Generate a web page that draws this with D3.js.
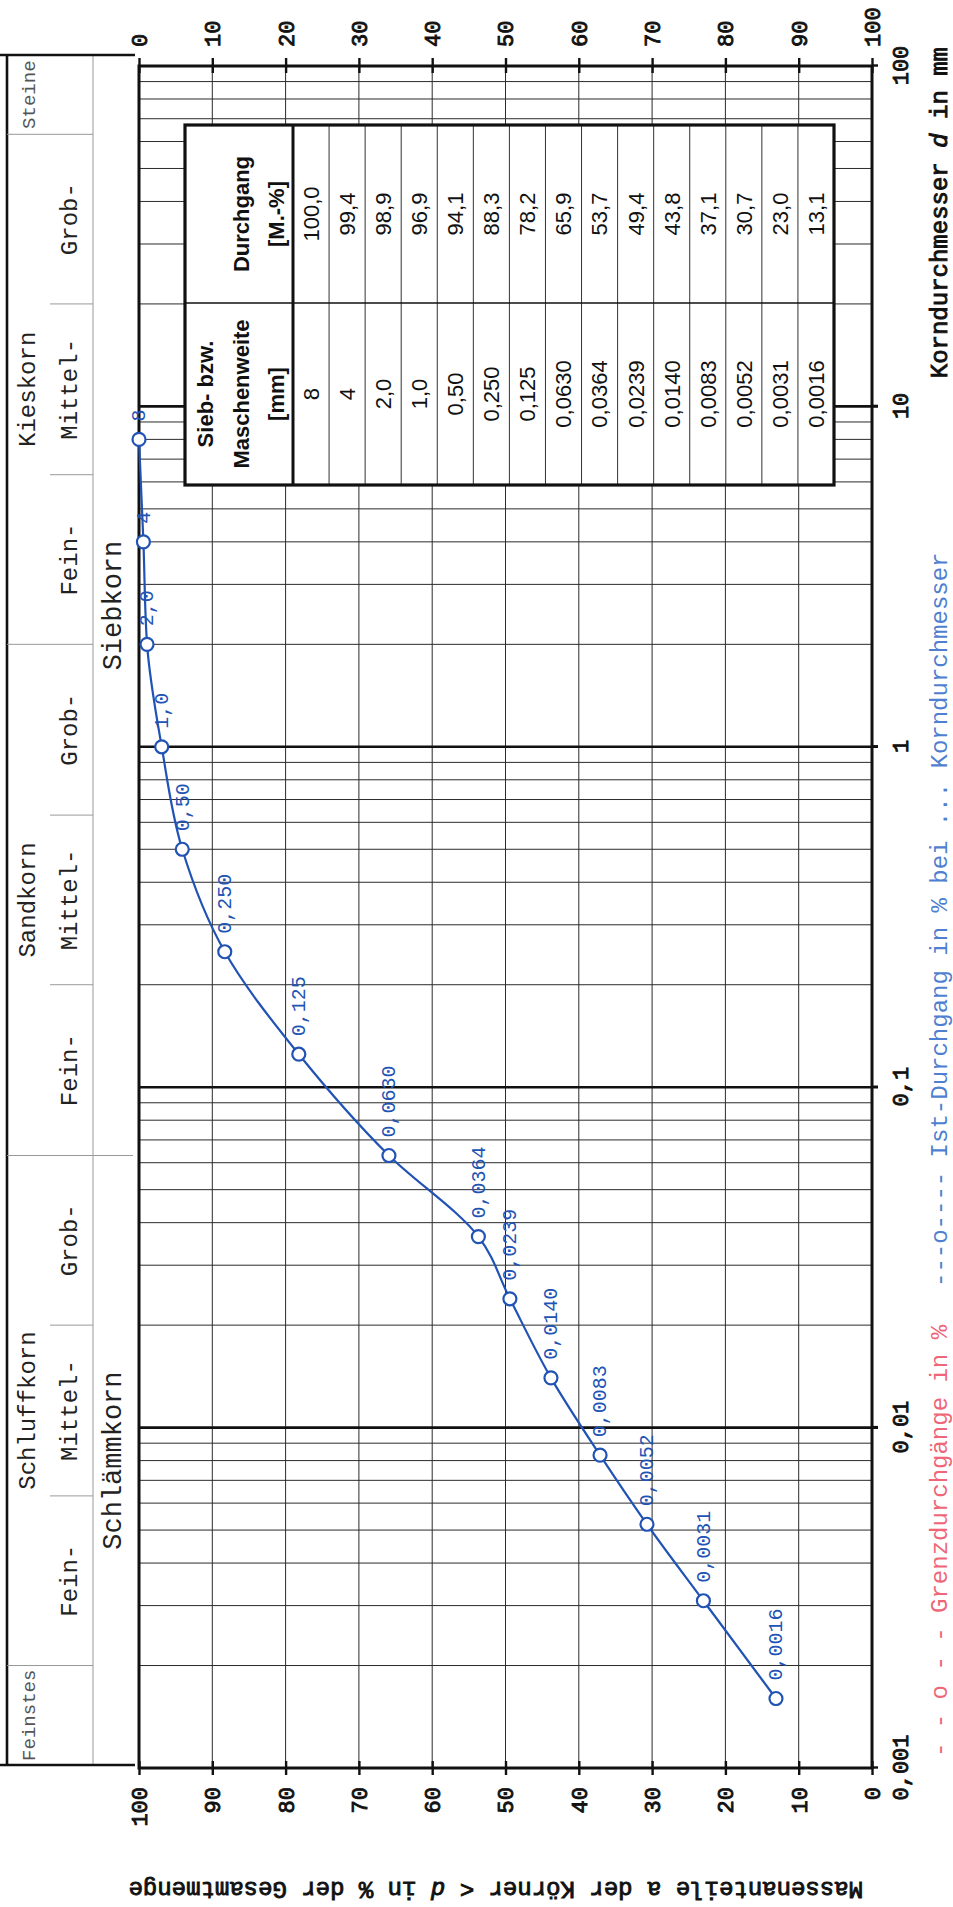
<!DOCTYPE html>
<html>
<head>
<meta charset="utf-8">
<script src="https://cdn.jsdelivr.net/npm/d3@7"></script>
<style>
  html, body { margin: 0; padding: 0; background: #fff; }
  svg { display: block; }
</style>
</head>
<body>
<svg id="chart" width="953" height="1907"></svg>
<script>
// Sieve and sedimentation results (grain size in mm, passing in mass-%)
const sieveSizes = [8, 4, 2.0, 1.0, 0.50, 0.250, 0.125, 0.0630, 0.0364, 0.0239, 0.0140, 0.0083, 0.0052, 0.0031, 0.0016];
const sizeLabels = ["8", "4", "2,0", "1,0", "0,50", "0,250", "0,125", "0,0630", "0,0364", "0,0239", "0,0140", "0,0083", "0,0052", "0,0031", "0,0016"];
const passing = [100.0, 99.4, 98.9, 96.9, 94.1, 88.3, 78.2, 65.9, 53.7, 49.4, 43.8, 37.1, 30.7, 23.0, 13.1];
const passingLabels = ["100,0", "99,4", "98,9", "96,9", "94,1", "88,3", "78,2", "65,9", "53,7", "49,4", "43,8", "37,1", "30,7", "23,0", "13,1"];

// Axis ticks
const sizeTicks = [0.001, 0.01, 0.1, 1, 10, 100];
const sizeTickLabels = ["0,001", "0,01", "0,1", "1", "10", "100"];
const percentTicks = [0, 10, 20, 30, 40, 50, 60, 70, 80, 90, 100];

// Soil classes
const mainClasses = ["Steine", "Kieskorn", "Sandkorn", "Schluffkorn", "Feinstes"];
const mainRanges = [[63, null], [2, 63], [0.063, 2], [0.002, 0.063], [null, 0.002]];
const subClasses = ["Grob-", "Mittel-", "Fein-", "Grob-", "Mittel-", "Fein-", "Grob-", "Mittel-", "Fein-"];
const subRanges = [[20, 63], [6.3, 20], [2, 6.3], [0.63, 2], [0.2, 0.63], [0.063, 0.2], [0.02, 0.063], [0.0063, 0.02], [0.002, 0.0063]];
const mainBounds = [63, 2, 0.063, 0.002];
const subBounds = [20, 6.3, 0.63, 0.2, 0.02, 0.0063];

const W = 953, H = 1907;
const MONO = "'Liberation Mono', 'Courier New', monospace";
const SANS = "'Liberation Sans', Arial, sans-serif";
const BLUE = "#2153b4";

const svg = d3.select("#chart");
// The diagram is laid out in landscape and turned a quarter turn onto the portrait page
const g = svg.append("g").attr("transform", `translate(0,${H}) rotate(-90)`);

const plot = { left: 139, right: 1841, top: 139, bottom: 872 };
const x = d3.scaleLog().domain([0.001, 100]).range([plot.left, plot.right]);
const y = d3.scaleLinear().domain([0, 100]).range([plot.bottom, plot.top]);   // Durchgang
const yR = d3.scaleLinear().domain([0, 100]).range([plot.top, plot.bottom]);  // Rückstand

// semi-bold typewriter text: regular face with a thin outline
const semiBold = sel => sel.attr("font-family", MONO).attr("font-weight", "normal")
  .attr("fill", "#111").attr("stroke", "#111").attr("stroke-width", 0.9);

// ---- grid ----
const logGrid = [];
for (let e = -3; e < 2; e++) for (let m = 2; m < 10; m++) logGrid.push(+(m * Math.pow(10, e)).toPrecision(6));

const grid = g.append("g");
grid.selectAll("line.lg").data(logGrid).join("line")
  .attr("x1", d => x(d)).attr("x2", d => x(d))
  .attr("y1", plot.top).attr("y2", plot.bottom)
  .attr("stroke", "#2b2b2b").attr("stroke-width", 1);
grid.selectAll("line.pg").data(percentTicks.slice(1, -1)).join("line")
  .attr("x1", plot.left).attr("x2", plot.right)
  .attr("y1", d => y(d)).attr("y2", d => y(d))
  .attr("stroke", "#2b2b2b").attr("stroke-width", 1);
// decade lines
grid.selectAll("line.dec").data(sizeTicks.slice(1, -1)).join("line")
  .attr("x1", d => x(d)).attr("x2", d => x(d))
  .attr("y1", plot.top).attr("y2", plot.bottom + 6)
  .attr("stroke", "#111").attr("stroke-width", 2.6);

// ---- table of results ----
const table = { x0: 1422, x1: 1782, xs: 1604, y0: 185, yh: 293, y1: 834 };
const rowH = (table.y1 - table.yh) / sieveSizes.length;
const tg = g.append("g");
tg.append("rect")
  .attr("x", table.x0).attr("y", table.y0)
  .attr("width", table.x1 - table.x0).attr("height", table.y1 - table.y0)
  .attr("fill", "#fff");
tg.selectAll("line.row").data(d3.range(1, sieveSizes.length)).join("line")
  .attr("x1", table.x0).attr("x2", table.x1)
  .attr("y1", i => table.yh + i * rowH).attr("y2", i => table.yh + i * rowH)
  .attr("stroke", "#333").attr("stroke-width", 1);
tg.append("line").attr("x1", table.xs).attr("x2", table.xs)
  .attr("y1", table.y0).attr("y2", table.y1)
  .attr("stroke", "#111").attr("stroke-width", 1.3);
tg.append("line").attr("x1", table.x0).attr("x2", table.x1)
  .attr("y1", table.yh).attr("y2", table.yh)
  .attr("stroke", "#111").attr("stroke-width", 3);
tg.append("rect")
  .attr("x", table.x0).attr("y", table.y0)
  .attr("width", table.x1 - table.x0).attr("height", table.y1 - table.y0)
  .attr("fill", "none").attr("stroke", "#111").attr("stroke-width", 3.2);

const cSize = (table.x0 + table.xs) / 2, cPass = (table.xs + table.x1) / 2;
const head = [
  { t: "Sieb- bzw.", cx: cSize, by: 213 },
  { t: "Maschenweite", cx: cSize, by: 249 },
  { t: "[mm]", cx: cSize, by: 284 },
  { t: "Durchgang", cx: cPass, by: 249 },
  { t: "[M.-%]", cx: cPass, by: 284 }
];
tg.selectAll("text.head").data(head).join("text")
  .attr("x", d => d.cx).attr("y", d => d.by)
  .attr("text-anchor", "middle")
  .attr("font-family", SANS).attr("font-weight", "bold").attr("font-size", 22)
  .attr("fill", "#111").text(d => d.t);
tg.selectAll("text.cs").data(sizeLabels).join("text")
  .attr("x", cSize).attr("y", (d, i) => table.yh + (i + 0.5) * rowH)
  .attr("dy", "0.36em").attr("text-anchor", "middle")
  .attr("font-family", SANS).attr("font-size", 22).attr("fill", "#111").text(d => d);
tg.selectAll("text.cp").data(passingLabels).join("text")
  .attr("x", cPass).attr("y", (d, i) => table.yh + (i + 0.5) * rowH)
  .attr("dy", "0.36em").attr("text-anchor", "middle")
  .attr("font-family", SANS).attr("font-size", 22).attr("fill", "#111").text(d => d);

// ---- frame and axes ----
g.append("rect")
  .attr("x", plot.left).attr("y", plot.top)
  .attr("width", plot.right - plot.left).attr("height", plot.bottom - plot.top)
  .attr("fill", "none").attr("stroke", "#111").attr("stroke-width", 3);

function styleAxis(sel) {
  sel.select(".domain").remove();
  sel.selectAll(".tick line").attr("stroke", "#111").attr("stroke-width", 2.4);
  sel.selectAll(".tick text").call(semiBold).attr("font-size", 22);
}

// grain size axis (d in mm)
const axB = g.append("g").attr("transform", `translate(0,${plot.bottom})`)
  .call(d3.axisBottom(x).tickValues(sizeTicks)
    .tickFormat((d, i) => sizeTickLabels[i]).tickSize(6).tickPadding(30));
styleAxis(axB);
axB.selectAll(".tick text").attr("dy", 0).attr("y", 36);

// Durchgang axis
const axL = g.append("g").attr("transform", `translate(${plot.left},0)`)
  .call(d3.axisLeft(y).tickValues(percentTicks).tickSize(7).tickPadding(12));
styleAxis(axL);
axL.selectAll(".tick text").attr("dy", "0.34em");
const axLi = g.append("g").attr("transform", `translate(${plot.left},0)`)
  .call(d3.axisLeft(y).tickValues(percentTicks).tickSize(-7).tickFormat(""));
styleAxis(axLi);

// Rückstand axis
const axR = g.append("g").attr("transform", `translate(${plot.right},0)`)
  .call(d3.axisRight(yR).tickValues(percentTicks).tickSize(8).tickPadding(11));
styleAxis(axR);
axR.selectAll(".tick text").attr("dy", "0.34em");
const axRi = g.append("g").attr("transform", `translate(${plot.right},0)`)
  .call(d3.axisRight(yR).tickValues(percentTicks).tickSize(-7).tickFormat(""));
styleAxis(axRi);

// ---- classification band ----
const band = { x0: x(0.001) + 3, x1: x(100) + 11, outer: 7, split: 50, inner: 93, edge: 135 };
const bg = g.append("g");
bg.append("line").attr("x1", band.x0).attr("x2", band.x1)
  .attr("y1", band.outer).attr("y2", band.outer)
  .attr("stroke", "#111").attr("stroke-width", 2.6);
bg.append("line").attr("x1", band.x0).attr("x2", band.x1)
  .attr("y1", band.inner).attr("y2", band.inner)
  .attr("stroke", "#999").attr("stroke-width", 1);
[band.x0, band.x1].forEach(v => {
  bg.append("line").attr("x1", v).attr("x2", v).attr("y1", 0).attr("y2", band.edge)
    .attr("stroke", "#111").attr("stroke-width", 2.6);
});
bg.selectAll("line.mb").data(mainBounds).join("line")
  .attr("x1", d => x(d)).attr("x2", d => x(d))
  .attr("y1", band.outer).attr("y2", d => d === 0.063 ? band.edge - 2 : band.inner)
  .attr("stroke", "#999").attr("stroke-width", 1);
bg.selectAll("line.sb").data(subBounds).join("line")
  .attr("x1", d => x(d)).attr("x2", d => x(d))
  .attr("y1", band.split).attr("y2", band.inner)
  .attr("stroke", "#999").attr("stroke-width", 1);

const rangeCenter = r => {
  const lo = r[0] == null ? band.x0 : x(r[0]);
  const hi = r[1] == null ? band.x1 : x(r[1]);
  return (lo + hi) / 2;
};
bg.selectAll("text.main").data(mainClasses).join("text")
  .attr("x", (d, i) => rangeCenter(mainRanges[i])).attr("y", 35)
  .attr("text-anchor", "middle").attr("font-family", MONO)
  .attr("font-size", (d, i) => (mainRanges[i][0] == null || mainRanges[i][1] == null) ? 19 : 24)
  .attr("fill", (d, i) => (mainRanges[i][0] == null || mainRanges[i][1] == null) ? "#555" : "#222")
  .text(d => d);
bg.selectAll("text.sub").data(subClasses).join("text")
  .attr("x", (d, i) => rangeCenter(subRanges[i])).attr("y", 77)
  .attr("text-anchor", "middle").attr("font-family", MONO).attr("font-size", 24)
  .attr("fill", "#222").text(d => d);
bg.append("text").attr("x", x(2.6)).attr("y", 121)
  .attr("text-anchor", "middle").attr("font-family", MONO).attr("font-size", 27)
  .attr("fill", "#222").text("Siebkorn");
bg.append("text").attr("x", x(0.008)).attr("y", 121)
  .attr("text-anchor", "middle").attr("font-family", MONO).attr("font-size", 27)
  .attr("fill", "#222").text("Schlämmkorn");

// ---- grading curve ----
const pts = sieveSizes.map((s, i) => ({ size: s, pass: passing[i], label: sizeLabels[i] }))
  .sort((a, b) => a.size - b.size);
const line = d3.line().x(d => x(d.size)).y(d => y(d.pass)).curve(d3.curveMonotoneX);
g.append("path").datum(pts).attr("d", line)
  .attr("fill", "none").attr("stroke", BLUE).attr("stroke-width", 2.2);
g.append("g").selectAll("circle").data(pts).join("circle")
  .attr("cx", d => x(d.size)).attr("cy", d => y(d.pass)).attr("r", 6.5)
  .attr("fill", "#fff").attr("stroke", BLUE).attr("stroke-width", 2.2);
g.append("g").selectAll("text").data(pts).join("text")
  .attr("x", d => x(d.size) + 18).attr("y", d => y(d.pass))
  .attr("dy", "0.32em").attr("font-family", MONO).attr("font-size", 20)
  .attr("fill", BLUE).text(d => d.label);

// ---- titles and legend ----
const title = g.append("text").attr("x", plot.right + 19).attr("y", 947)
  .attr("text-anchor", "end").attr("font-size", 24).call(semiBold);
title.append("tspan").text("Korndurchmesser ");
title.append("tspan").attr("font-style", "italic").text("d");
title.append("tspan").text(" in mm");

const ytitle = g.append("text").attr("x", 25).attr("y", 863)
  .attr("transform", "rotate(-90,25,863)")
  .attr("font-size", 24).call(semiBold);
ytitle.append("tspan").text("Massenanteile a der Körner < ");
ytitle.append("tspan").attr("font-style", "italic").text("d");
ytitle.append("tspan").text(" in % der Gesamtmenge");

g.append("text").attr("x", 150).attr("y", 947)
  .attr("font-family", MONO).attr("font-size", 24).attr("fill", "#ee6677")
  .text("- - o - - Grenzdurchgänge in %");
g.append("text").attr("x", 620).attr("y", 947)
  .attr("font-family", MONO).attr("font-size", 24).attr("fill", "#4f7fd0")
  .text("---o---- Ist-Durchgang in % bei ... Korndurchmesser");
</script>
</body>
</html>
